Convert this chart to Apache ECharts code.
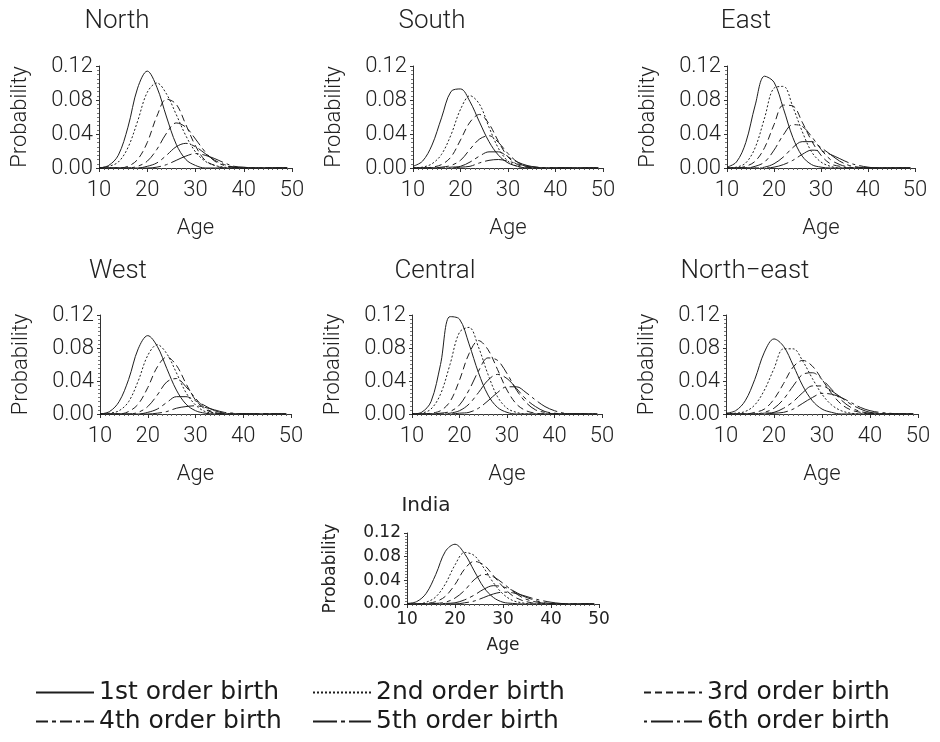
<!DOCTYPE html>
<html><head><meta charset="utf-8">
<script src="https://cdn.jsdelivr.net/npm/echarts@6/dist/echarts.min.js"></script>
<style>html,body{margin:0;padding:0;background:#fff}#c{width:940px;height:742px}</style>
</head><body><div id="c"></div>
<script>
// ---- data ----
const ages = [10,12,14,16,18,20,22,24,26,28,30,32,34,36,38,40,42,44,46,48,49];
const yTickValues = [0, 0.04, 0.08, 0.12];
const xTickValues = [10, 20, 30, 40, 50];
const orderNames = ['1st order birth','2nd order birth','3rd order birth','4th order birth','5th order birth','6th order birth'];
const regionNames = ['North','South','East','West','Central','North\u2212east','India'];

const north1 = [0,0.003,0.015,0.048,0.094,0.114,0.095,0.060,0.028,0.010,0.003,0,0,0,0,0,0,0,0,0,0];
const north2 = [0,0.002,0.007,0.024,0.055,0.089,0.100,0.087,0.063,0.038,0.019,0.008,0.003,0.001,0,0,0,0,0,0,0];
const north3 = [0,0,0,0.002,0.010,0.030,0.061,0.081,0.075,0.051,0.026,0.009,0.003,0,0,0,0,0,0,0,0];
const north4 = [0,0,0,0,0.002,0.008,0.022,0.041,0.053,0.048,0.034,0.019,0.008,0.003,0.001,0,0,0,0,0,0];
const north5 = [0,0,0,0,0,0.002,0.006,0.015,0.025,0.029,0.025,0.017,0.009,0.004,0.001,0,0,0,0,0,0];
const north6 = [0,0,0,0,0,0,0.001,0.004,0.009,0.014,0.017,0.015,0.011,0.006,0.002,0.001,0,0,0,0,0];

const south1 = [0.002,0.008,0.027,0.059,0.090,0.093,0.078,0.054,0.031,0.015,0.006,0.002,0,0,0,0,0,0,0,0,0];
const south2 = [0,0.001,0.005,0.016,0.039,0.069,0.085,0.075,0.048,0.023,0.008,0.002,0,0,0,0,0,0,0,0,0];
const south3 = [0,0,0.001,0.004,0.013,0.033,0.054,0.063,0.052,0.031,0.013,0.004,0.001,0,0,0,0,0,0,0,0];
const south4 = [0,0,0,0.001,0.003,0.009,0.022,0.034,0.038,0.030,0.017,0.007,0.002,0,0,0,0,0,0,0,0];
const south5 = [0,0,0,0,0.001,0.002,0.007,0.014,0.019,0.019,0.013,0.007,0.003,0.001,0,0,0,0,0,0,0];
const south6 = [0,0,0,0,0,0.001,0.002,0.006,0.009,0.010,0.008,0.005,0.002,0.001,0,0,0,0,0,0,0];

const east1 = [0.001,0.007,0.030,0.074,0.108,0.101,0.070,0.036,0.014,0.004,0.001,0,0,0,0,0,0,0,0,0,0];
const east2 = [0,0.001,0.006,0.024,0.059,0.094,0.096,0.072,0.043,0.019,0.007,0.002,0,0,0,0,0,0,0,0,0];
const east3 = [0,0,0.002,0.008,0.024,0.051,0.074,0.073,0.054,0.032,0.015,0.005,0.002,0,0,0,0,0,0,0,0];
const east4 = [0,0,0,0.002,0.007,0.021,0.039,0.051,0.049,0.037,0.022,0.010,0.004,0.001,0,0,0,0,0,0,0];
const east5 = [0,0,0,0,0.001,0.005,0.013,0.024,0.031,0.031,0.024,0.016,0.008,0.003,0.001,0,0,0,0,0,0];
const east6 = [0,0,0,0,0,0.001,0.004,0.009,0.016,0.021,0.020,0.016,0.011,0.006,0.003,0.001,0,0,0,0,0];

const west1 = [0,0.003,0.015,0.042,0.079,0.095,0.082,0.055,0.029,0.012,0.004,0.001,0,0,0,0,0,0,0,0,0];
const west2 = [0,0.001,0.004,0.015,0.040,0.071,0.084,0.073,0.050,0.026,0.011,0.003,0.001,0,0,0,0,0,0,0,0];
const west3 = [0,0,0,0.003,0.012,0.032,0.057,0.069,0.059,0.037,0.017,0.006,0.001,0,0,0,0,0,0,0,0];
const west4 = [0,0,0,0,0.002,0.009,0.023,0.039,0.043,0.033,0.019,0.007,0.002,0,0,0,0,0,0,0,0];
const west5 = [0,0,0,0,0,0.002,0.006,0.014,0.021,0.021,0.016,0.010,0.004,0.001,0,0,0,0,0,0,0];
const west6 = [0,0,0,0,0,0,0.001,0.003,0.007,0.009,0.010,0.008,0.005,0.002,0.001,0,0,0,0,0,0];

const central1 = [0,0.002,0.015,0.060,0.118,0.115,0.085,0.050,0.023,0.008,0.002,0,0,0,0,0,0,0,0,0,0];
const central2 = [0,0.001,0.006,0.024,0.060,0.099,0.105,0.081,0.048,0.021,0.007,0.002,0,0,0,0,0,0,0,0,0];
const central3 = [0,0,0.001,0.004,0.015,0.041,0.073,0.089,0.078,0.054,0.029,0.012,0.004,0.001,0,0,0,0,0,0,0];
const central4 = [0,0,0,0.001,0.003,0.011,0.029,0.052,0.068,0.065,0.049,0.029,0.014,0.005,0.002,0,0,0,0,0,0];
const central5 = [0,0,0,0,0.001,0.004,0.012,0.026,0.041,0.048,0.043,0.031,0.018,0.009,0.003,0.001,0,0,0,0,0];
const central6 = [0,0,0,0,0,0.001,0.002,0.007,0.016,0.026,0.033,0.033,0.026,0.017,0.009,0.004,0.001,0,0,0,0];

const northeast1 = [0.001,0.004,0.016,0.042,0.075,0.091,0.082,0.059,0.034,0.016,0.006,0.002,0,0,0,0,0,0,0,0,0];
const northeast2 = [0,0.001,0.003,0.011,0.029,0.055,0.079,0.079,0.064,0.043,0.024,0.011,0.004,0.001,0,0,0,0,0,0,0];
const northeast3 = [0,0,0,0.002,0.006,0.018,0.037,0.057,0.065,0.058,0.042,0.025,0.012,0.005,0.002,0,0,0,0,0,0];
const northeast4 = [0,0,0,0,0.002,0.007,0.018,0.034,0.048,0.050,0.042,0.030,0.017,0.008,0.003,0.001,0,0,0,0,0];
const northeast5 = [0,0,0,0,0.001,0.002,0.007,0.015,0.026,0.034,0.034,0.028,0.020,0.012,0.006,0.002,0.001,0,0,0,0];
const northeast6 = [0,0,0,0,0,0.001,0.002,0.006,0.013,0.020,0.025,0.024,0.020,0.014,0.008,0.004,0.002,0.001,0,0,0];

const india1 = [0.001,0.004,0.018,0.050,0.089,0.101,0.085,0.056,0.028,0.011,0.003,0.001,0,0,0,0,0,0,0,0,0];
const india2 = [0,0,0.003,0.012,0.034,0.066,0.087,0.082,0.061,0.036,0.017,0.006,0.002,0,0,0,0,0,0,0,0];
const india3 = [0,0,0.001,0.004,0.013,0.033,0.059,0.072,0.066,0.048,0.029,0.014,0.006,0.002,0,0,0,0,0,0,0];
const india4 = [0,0,0,0.001,0.003,0.010,0.023,0.041,0.050,0.046,0.035,0.022,0.011,0.005,0.002,0,0,0,0,0,0];
const india5 = [0,0,0,0,0.001,0.002,0.007,0.015,0.025,0.031,0.029,0.023,0.014,0.008,0.003,0.001,0,0,0,0,0];
const india6 = [0,0,0,0,0,0,0.002,0.005,0.011,0.017,0.020,0.019,0.015,0.010,0.006,0.003,0.001,0,0,0,0];

const regionSeries = [
  [north1,north2,north3,north4,north5,north6],
  [south1,south2,south3,south4,south5,south6],
  [east1,east2,east3,east4,east5,east6],
  [west1,west2,west3,west4,west5,west6],
  [central1,central2,central3,central4,central5,central6],
  [northeast1,northeast2,northeast3,northeast4,northeast5,northeast6],
  [india1,india2,india3,india4,india5,india6]
];

// ---- layout / style ----
const panels = [
  {left:99,  top:66,  width:193, height:102, tx:117, ty:21,  small:false},
  {left:413, top:66,  width:190, height:102, tx:432, ty:21,  small:false},
  {left:727, top:66,  width:188, height:102, tx:746, ty:21,  small:false},
  {left:100, top:315, width:191, height:99,  tx:118, ty:271, small:false},
  {left:412, top:315, width:190, height:99,  tx:435, ty:271, small:false},
  {left:726, top:315, width:192, height:99,  tx:745, ty:271, small:false},
  {left:407, top:533, width:192, height:71,  tx:426, ty:506, small:true}
];
const lineTypes = ['solid',[2,2],[7,4],[12,4,4,4],[24,4,4,4],[3,4,22,4]];
const ink = '#1e1e1e';
const bigFont = 'Roboto, "DejaVu Sans", sans-serif';
const smallFont = '"DejaVu Sans", sans-serif';

const grids = [], xAxes = [], yAxes = [], series = [], graphics = [];
panels.forEach((p, i) => {
  const fam = p.small ? smallFont : bigFont;
  const fs = p.small ? 17 : 22;
  const fw = p.small ? 'normal' : 300;
  grids.push({left:p.left, top:p.top, width:p.width, height:p.height, containLabel:false});
  xAxes.push({
    type:'value', gridIndex:i, min:xTickValues[0], max:xTickValues[xTickValues.length-1], interval:10,
    name:'Age', nameLocation:'middle', nameGap: p.small ? 33 : 49,
    nameTextStyle:{fontFamily:fam, fontSize:fs, fontWeight:fw, color:'#222'},
    axisLine:{show:true, lineStyle:{color:'#333', width:1}},
    axisTick:{show:true, length:4, lineStyle:{color:'#333'}},
    minorTick:{show:true, splitNumber:10, length:2, lineStyle:{color:'#666'}},
    splitLine:{show:false},
    axisLabel:{fontFamily:fam, fontSize:fs, fontWeight:fw, color:'#222', margin: p.small ? 7 : 11}
  });
  yAxes.push({
    type:'value', gridIndex:i, min:yTickValues[0], max:yTickValues[yTickValues.length-1], interval:0.04,
    name:'Probability', nameLocation:'middle', nameGap: p.small ? 68 : 68,
    nameTextStyle:{fontFamily:fam, fontSize:fs, fontWeight:fw, color:'#222'},
    axisLine:{show:true, lineStyle:{color:'#333', width:1}},
    axisTick:{show:true, length:3, lineStyle:{color:'#333'}},
    minorTick:{show:true, splitNumber:8, length:2, lineStyle:{color:'#777'}},
    splitLine:{show:false},
    axisLabel:{fontFamily:fam, fontSize:fs, fontWeight:fw, color:'#222', margin:6,
      formatter: v => v.toFixed(2)}
  });
  regionSeries[i].forEach((arr, k) => {
    series.push({
      type:'line', name:orderNames[k], xAxisIndex:i, yAxisIndex:i,
      data: ages.map((a, j) => [a, arr[j]]),
      smooth:0.35, symbol:'none', showSymbol:false, silent:true,
      lineStyle:{color:ink, width:1, type:lineTypes[k]},
      itemStyle:{color:ink}
    });
  });
  graphics.push({
    type:'text', x:p.tx, y:p.ty,
    style:{text:regionNames[i], font:(p.small ? 'normal 20px ' + smallFont : '300 26px ' + bigFont),
      fill:'#222', textAlign:'center', textVerticalAlign:'middle'}
  });
});

const legendText = {fontFamily:'"DejaVu Sans", sans-serif', fontSize:25, color:'#1a1a1a'};
const legendBase = {orient:'vertical', top:680, itemGap:4, itemWidth:58, itemHeight:14,
  selectedMode:false, textStyle:legendText, lineStyle:{width:2, opacity:1},
  itemStyle:{opacity:0, borderWidth:0}, padding:0};

const chart = echarts.init(document.getElementById('c'), null, {renderer:'canvas'});
chart.setOption({
  animation:false,
  backgroundColor:'#fff',
  grid:grids, xAxis:xAxes, yAxis:yAxes, series:series,
  graphic:graphics,
  legend:[
    Object.assign({left:35,  data:[orderNames[0], orderNames[3]]}, legendBase),
    Object.assign({left:312, data:[orderNames[1], orderNames[4]]}, legendBase),
    Object.assign({left:643, data:[orderNames[2], orderNames[5]]}, legendBase)
  ]
});
</script></body></html>
